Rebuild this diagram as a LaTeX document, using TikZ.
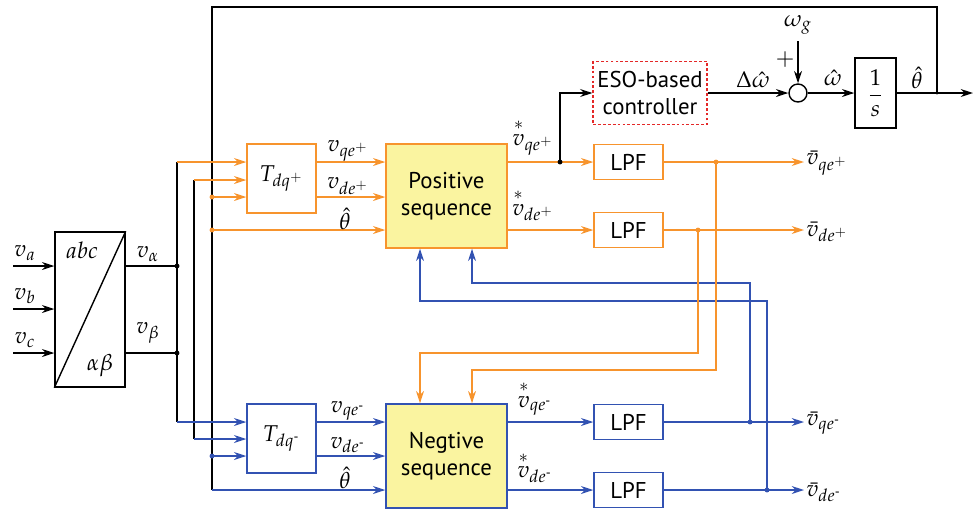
\documentclass[tikz,border=0pt]{standalone}
\usepackage{amsmath}
\usepackage{mathpazo}
\usepackage[no-math]{fontspec}
\setmainfont{PT Sans}
\usetikzlibrary{arrows.meta, calc}

\definecolor{posorange}{RGB}{247,148,45}
\definecolor{negblue}{RGB}{50,82,178}
\definecolor{seqyellow}{RGB}{250,244,160}
\definecolor{esored}{RGB}{228,40,40}

\newcommand{\negsup}{\text{-}}

\tikzset{
  blockbox/.style={draw, inner sep=0pt, minimum width=1.38cm, minimum height=1.38cm},
  seqbox/.style={draw, fill=seqyellow, align=center, inner sep=0pt, minimum width=2.42cm, minimum height=2.08cm},
  lpfbox/.style={draw, inner sep=0pt, minimum width=1.38cm, minimum height=0.7cm},
  outlbl/.style={anchor=west, inner sep=1pt},
  posline/.style={color=posorange},
  negline/.style={color=negblue},
}

\begin{document}
\begin{tikzpicture}[x=0.02cm, y=-0.02cm, line width=0.8pt, >={Stealth[length=7pt,width=4.5pt]},
  every node/.style={font=\fontsize{13}{15.5}\selectfont}]
\useasboundingbox (0,0) rectangle (976,512);

% Blocks
\node[draw, minimum width=1.4cm, minimum height=3.1cm, inner sep=0pt] (abc) at (90,309.5) {};
\draw (abc.south west) -- (abc.north east);
\node (labc) at (82,250) {$abc$};
\node (lab) at (100,366) {$\alpha\beta$};

\node[blockbox, draw=posorange] (Tp) at (281.5,178.5) {$T_{dq^+}$};
\node[blockbox, draw=negblue] (Tn) at (281.5,438.5) {$T_{dq^{\negsup}}$};
\node[seqbox, draw=posorange] (pseq) at (446.5,196) {Positive\\sequence};
\node[seqbox, draw=negblue] (nseq) at (446.5,456) {Negtive\\sequence};
\node[lpfbox, draw=posorange] (lpf1) at (628.5,162) {LPF};
\node[lpfbox, draw=posorange] (lpf2) at (628.5,230) {LPF};
\node[lpfbox, draw=negblue] (lpf3) at (628.5,422) {LPF};
\node[lpfbox, draw=negblue] (lpf4) at (628.5,490) {LPF};
\node[draw=esored, dash pattern=on 1.6pt off 1.2pt, line width=0.7pt, align=center,
  minimum width=2.28cm, minimum height=1.26cm, inner sep=0pt] (eso) at (650,93) {ESO-based\\controller};
\node[draw, circle, minimum size=0.36cm, inner sep=0pt] (sum) at (798,93) {};
\node[draw, minimum width=0.82cm, minimum height=1.4cm, inner sep=0pt] (integ) at (875.5,93) {$\dfrac{1}{s}$};

% Junctions
\coordinate (ja) at (177,266);
\coordinate (jb) at (177,353);
\coordinate (b1t) at (177,162);
\coordinate (b1b) at (177,422);
\coordinate (b2t) at (194,180);
\coordinate (b2b) at (194,439);
\coordinate (b3t) at (212,7);
\coordinate (b3b) at (212,490);
\coordinate (t1) at (212,197);
\coordinate (t2) at (212,230);
\coordinate (t3) at (212,456);
\coordinate (je) at (560,162);
\coordinate (jth) at (937,93);
\coordinate (thout) at (973,93);
\coordinate (fqp) at (716,162);
\coordinate (fdp) at (698,230);
\coordinate (fqn) at (750,422);
\coordinate (fdn) at (767,490);
\coordinate (pin1) at ($(pseq.south)+(-26.5,0)$);
\coordinate (pin2) at ($(pseq.south)+(25.5,0)$);
\coordinate (nin1) at ($(nseq.north)+(-26.5,0)$);
\coordinate (nin2) at ($(nseq.north)+(25.5,0)$);

% Inputs
\foreach \n/\y in {a/266, b/309, c/353} {
  \coordinate (i\n) at (13,\y);
  \draw[->] (i\n) -- (abc.west |- i\n);
  \node (lv\n) at (25,\y-13) {$v_\n$};
}

% Clarke outputs
\draw (abc.east |- ja) -- (ja);
\draw (abc.east |- jb) -- (jb);
\node (lvalpha) at (148,254) {$v_\alpha$};
\node (lvbeta) at (148,333) {$v_\beta$};

% Buses
\draw (b1t) -- (b1b);
\draw (b2t) -- (b2b);
\draw (b3b) -- (b3t) -| (jth);
\draw[->, posline] (b1t) -- (Tp.west |- b1t);
\draw[->, posline] (b2t) -- (Tp.west |- b2t);
\draw[->, posline] (t1) -- (Tp.west |- t1);
\draw[->, posline] (t2) -- (pseq.west |- t2);
\draw[->, negline] (b1b) -- (Tn.west |- b1b);
\draw[->, negline] (b2b) -- (Tn.west |- b2b);
\draw[->, negline] (t3) -- (Tn.west |- t3);
\draw[->, negline] (b3b) -- (nseq.west |- b3b);

% Park outputs
\draw[->, posline] (Tp.east |- b1t) -- (pseq.west |- b1t);
\draw[->, posline] (Tp.east |- t1) -- (pseq.west |- t1);
\draw[->, negline] (Tn.east |- b1b) -- (nseq.west |- b1b);
\draw[->, negline] (Tn.east |- t3) -- (nseq.west |- t3);
\node (lvqp) at (348,151) {$v_{qe^+}$};
\node (lvdp) at (348,186) {$v_{de^+}$};
\node (lthp) at (345,219) {$\hat{\theta}$};
\node (lvqn) at (348,411) {$v_{qe^{\negsup}}$};
\node (lvdn) at (348,445) {$v_{de^{\negsup}}$};
\node (lthn) at (345,478) {$\hat{\theta}$};

% Sequence outputs
\draw[->, posline] (pseq.east |- lpf1) -- (lpf1);
\draw[->, posline] (pseq.east |- lpf2) -- (lpf2);
\draw[->, negline] (nseq.east |- lpf3) -- (lpf3);
\draw[->, negline] (nseq.east |- lpf4) -- (lpf4);
\node (lsqp) at (533,137) {$\overset{*}{v}_{qe^+}$};
\node (lsdp) at (533,205) {$\overset{*}{v}_{de^+}$};
\node (lsqn) at (535,398) {$\overset{*}{v}_{qe^{\negsup}}$};
\node (lsdn) at (535,467) {$\overset{*}{v}_{de^{\negsup}}$};

% Filtered outputs
\node[outlbl] (oqp) at (804,163) {$\bar{v}_{qe^+}$};
\node[outlbl] (odp) at (804,232) {$\bar{v}_{de^+}$};
\node[outlbl] (oqn) at (804,423) {$\bar{v}_{qe^{\negsup}}$};
\node[outlbl] (odn) at (804,492) {$\bar{v}_{de^{\negsup}}$};
\draw[->, posline] (lpf1) -- (lpf1 -| oqp.west);
\draw[->, posline] (lpf2) -- (lpf2 -| odp.west);
\draw[->, negline] (lpf3) -- (lpf3 -| oqn.west);
\draw[->, negline] (lpf4) -- (lpf4 -| odn.west);

% PLL
\draw[->] (je) |- (eso);
\draw[->] (eso) -- (sum);
\draw[->] (sum) -- (integ);
\draw[->] (integ) -- (thout);
\node (wg) at (798,25) {$\omega_g$};
\draw[->] (wg) -- (sum);
\node (plus) at (785,60) {$+$};
\node (ldw) at (753,80) {$\Delta\hat{\omega}$};
\node (lw) at (833,78) {$\hat{\omega}$};
\node (lth) at (917,78) {$\hat{\theta}$};

% Cross coupling
\draw[->, negline] (fqn) -- (fqn |- 0,283) -| (pin2);
\draw[->, negline] (fdn) -- (fdn |- 0,301) -| (pin1);
\draw[->, posline] (fqp) -- (fqp |- 0,370) -| (nin2);
\draw[->, posline] (fdp) -- (fdp |- 0,353) -| (nin1);

% Dots
\foreach \p in {ja, jb, je} \fill (\p) circle (1.4pt);
\fill (jth) circle (0.9pt);
\foreach \p in {t1, t2, fqp, fdp} \fill[posorange] (\p) circle (1.4pt);
\foreach \p in {t3, fqn, fdn} \fill[negblue] (\p) circle (1.4pt);
\end{tikzpicture}
\end{document}
